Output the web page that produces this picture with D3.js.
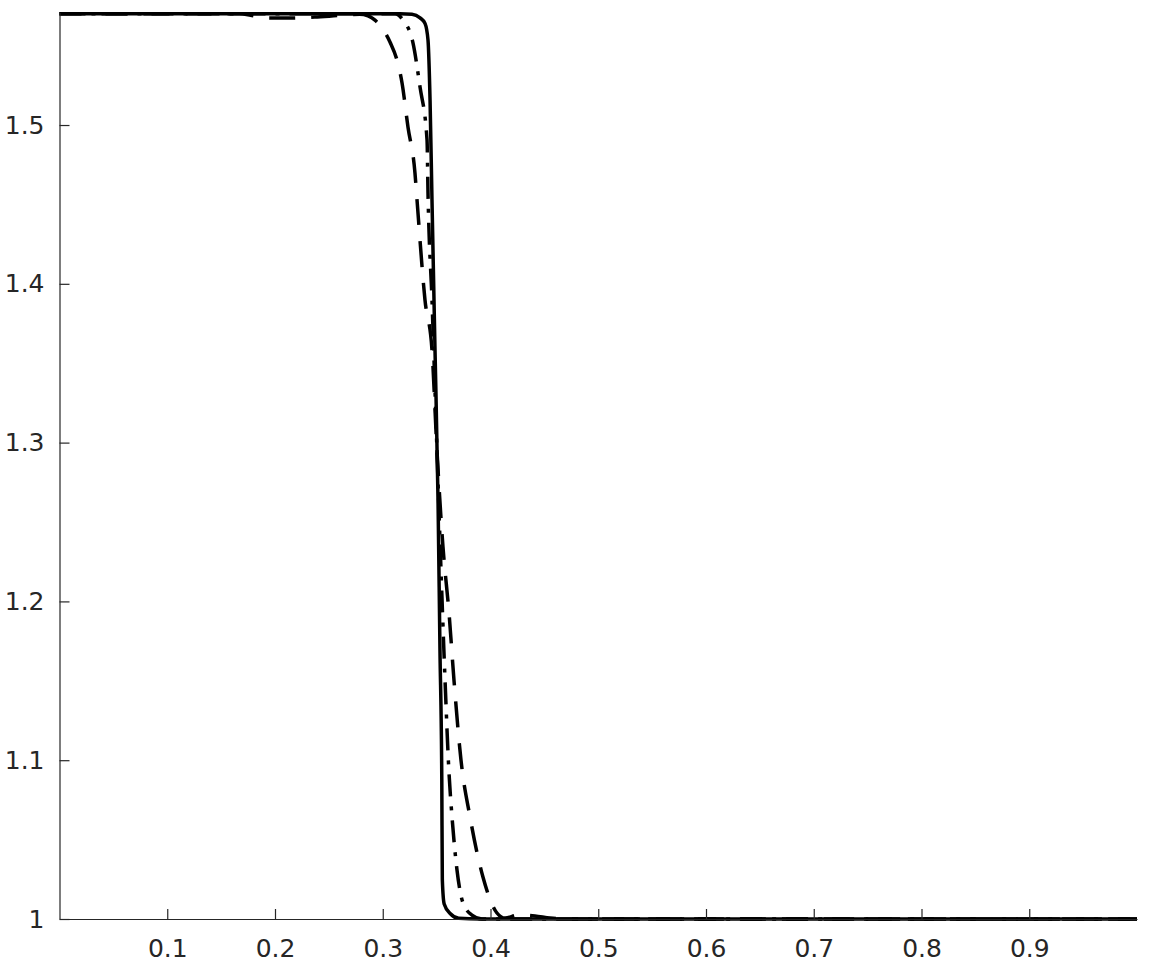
<!DOCTYPE html>
<html>
<head>
<meta charset="utf-8">
<script src="https://cdn.jsdelivr.net/npm/d3@7"></script>
<style>
  body { margin: 0; background: #fff; }
  svg { display: block; }
</style>
</head>
<body>
<div id="chart"></div>
<script>

    // Data
    var xTicks = [0.1, 0.2, 0.3, 0.4, 0.5, 0.6, 0.7, 0.8, 0.9],
        yTicks = [1, 1.1, 1.2, 1.3, 1.4, 1.5];

    // solid curve
    var solidX = [0, 0.316, 0.3271, 0.3346, 0.3392, 0.3420, 0.3439, 0.3457, 0.3485, 0.3513, 0.3531, 0.3548, 0.3553, 0.3570, 0.3628, 0.3705, 0.3903, 1.0];
    var solidY = [1.5700, 1.5700, 1.5697, 1.5675, 1.5640, 1.5535, 1.5157, 1.4528, 1.3583, 1.2639, 1.1694, 1.0875, 1.0246, 1.0095, 1.0033, 1.0004, 1.0, 1.0];

    // dash-dot curve
    var dashDotX = [0, 0.3114, 0.3188, 0.3281, 0.3346, 0.3411, 0.3420, 0.3457, 0.3494, 0.3531, 0.3578, 0.3615, 0.3643, 0.3689, 0.3745, 0.3828, 0.3921, 1.0];
    var dashDotY = [1.5700, 1.5700, 1.5661, 1.5516, 1.5239, 1.4906, 1.4572, 1.3898, 1.3142, 1.2387, 1.1505, 1.0919, 1.0642, 1.0309, 1.0101, 1.0025, 1.0, 1.0];

    // dashed curve
    var dashedX = [0, 0.1671, 0.181, 0.195, 0.2135, 0.2367, 0.2599, 0.2785, 0.2863, 0.2928, 0.3067, 0.3132, 0.3179, 0.3234, 0.3299, 0.3318, 0.3392, 0.3457, 0.3503, 0.3559, 0.3615, 0.3661, 0.3726, 0.3810, 0.3930, 0.4060, 0.4135, 0.4255, 0.4413, 0.4552, 0.4691, 1.0];
    var dashedY = [1.5700, 1.5700, 1.5687, 1.5674, 1.5674, 1.5680, 1.5690, 1.5697, 1.5687, 1.5661, 1.5523, 1.5409, 1.5265, 1.4987, 1.4698, 1.4528, 1.3898, 1.3583, 1.2953, 1.2343, 1.1927, 1.1505, 1.1001, 1.0642, 1.0264, 1.0038, 1.0006, 1.0025, 1.0019, 1.0006, 1.0, 1.0];

    ///////////////////////////////////////////////////////////////////////////
    ///////////////////////////// Set up the SVG //////////////////////////////
    ///////////////////////////////////////////////////////////////////////////

    var width = 1153,
        height = 977;

    var svg = d3.select("#chart")
        .append("svg")
            .attr("width", width)
            .attr("height", height);

    var x = d3.scaleLinear()
        .domain([0, 1])
        .range([59.5, 1137]);

    var y = d3.scaleLinear()
        .domain([1, Math.PI / 2])
        .range([919, 12.6]);

    var axisColor = "#262626";

    ///////////////////////////////////////////////////////////////////////////
    ////////////////////////////////// Curves /////////////////////////////////
    ///////////////////////////////////////////////////////////////////////////

    var line = d3.line()
        .x(d => x(d[0]))
        .y(d => y(d[1]))
        .curve(d3.curveMonotoneX);

    function drawCurve(xs, ys, dash, width) {
        svg.append("path")
            .datum(xs.map((v, i) => [v, ys[i]]))
            .attr("d", line)
            .attr("fill", "none")
            .attr("stroke", "#000")
            .attr("stroke-width", width)
            .attr("stroke-dasharray", dash)
            .attr("stroke-linejoin", "round");
    }

    drawCurve(dashedX, dashedY, "26,16", 3.5);
    drawCurve(dashDotX, dashDotY, "22,10,4,10", 3.5);
    drawCurve(solidX, solidY, null, 3.5);

    ///////////////////////////////////////////////////////////////////////////
    ////////////////////////////////// Axes ///////////////////////////////////
    ///////////////////////////////////////////////////////////////////////////

    var xAxis = svg.append("g")
        .attr("transform", "translate(0," + y(1) + ")")
        .call(d3.axisBottom(x)
            .tickValues(xTicks)
            .tickFormat(d3.format(".1f"))
            .tickSizeInner(-10)
            .tickSizeOuter(0)
            .tickPadding(20));

    var yAxis = svg.append("g")
        .attr("transform", "translate(" + x(0) + ",0)")
        .call(d3.axisLeft(y)
            .tickValues(yTicks)
            .tickFormat(d => d === 1 ? "1" : d3.format(".1f")(d))
            .tickSizeInner(-10)
            .tickSizeOuter(0)
            .tickPadding(15));

    [xAxis, yAxis].forEach(function(g) {
        g.selectAll("path, line")
            .attr("stroke", axisColor)
            .attr("stroke-width", 1.2);
        g.selectAll("text")
            .attr("fill", axisColor)
            .style("font-family", "DejaVu Sans")
            .style("font-size", "25px");
    });

</script>
</body>
</html>
